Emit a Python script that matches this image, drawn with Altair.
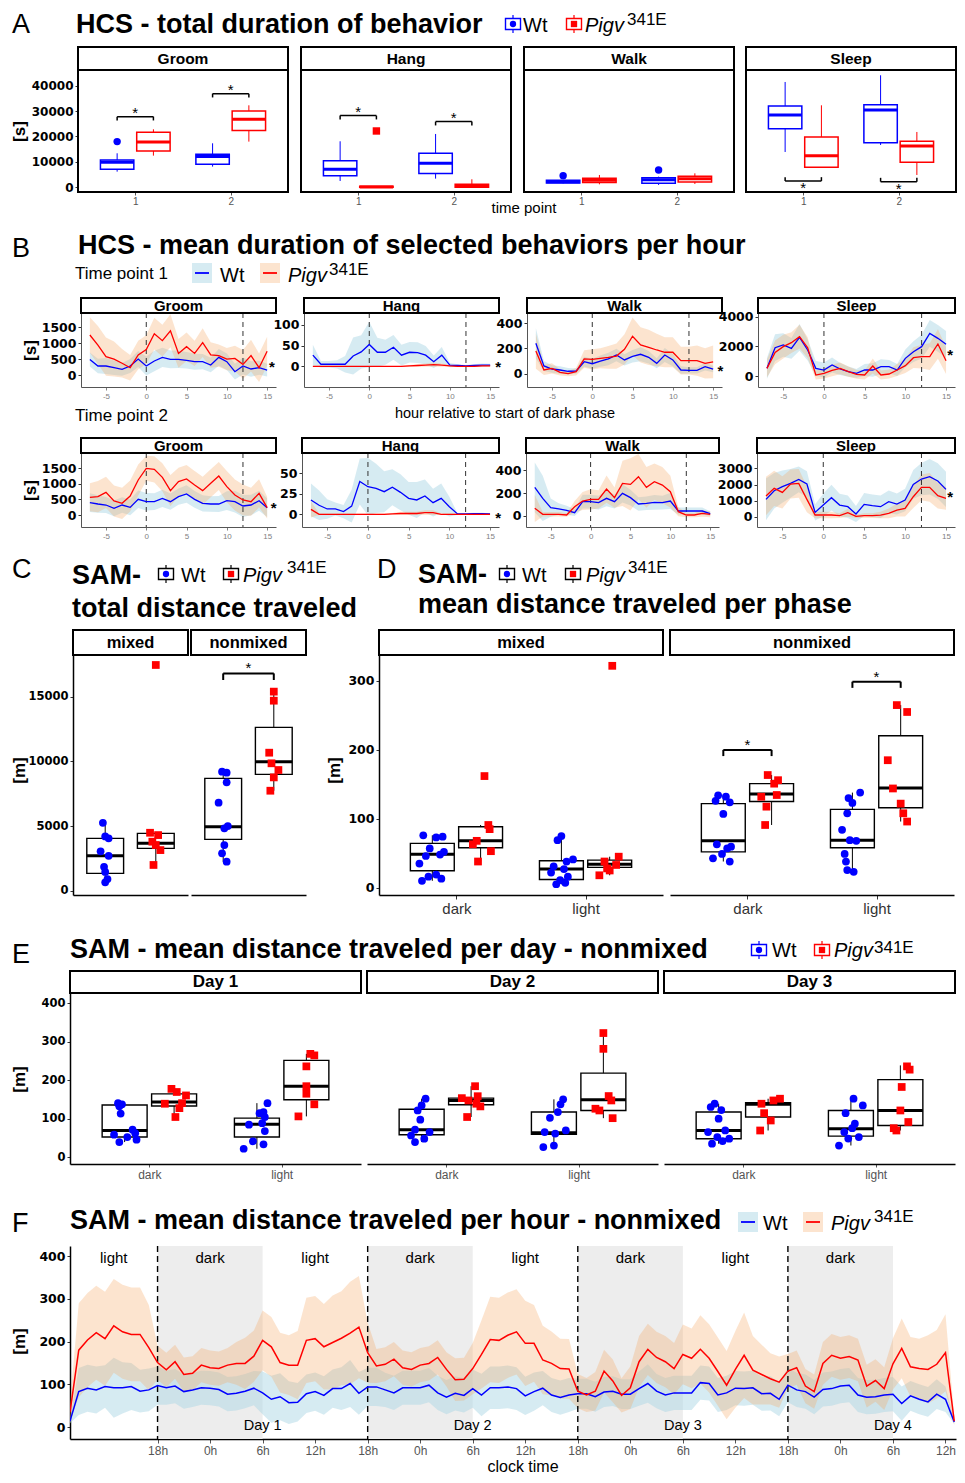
import altair as alt
import pandas as pd

SANS = "Liberation Sans"
NUM = "DejaVu Sans"
BLUE = "#0000FF"
RED = "#FF0000"
BAND_W = "#add8e6"
BAND_P = "#f4a460"
GRP = ["Wt", "Pigv"]
ONE = pd.DataFrame({"k": [0]})
GCOLOR = alt.Scale(domain=GRP, range=[BLUE, RED])
GSHAPE = alt.Scale(domain=GRP, range=["circle", "square"])
TFS = 27  # title font size
FULLW = 948

# ---------------- titles
TITLE_A = "HCS - total duration of behavior"
TITLE_B = "HCS - mean duration of selected behaviors per hour"
TITLE_C = "total distance traveled"
TITLE_D = "mean distance traveled per phase"
TITLE_E = "SAM - mean distance traveled per day - nonmixed"
TITLE_F = "SAM - mean distance traveled per hour - nonmixed"

# ---------------- A : boxplot stats (behavior, time point, genotype)
A_BEH = ["Groom"] * 4 + ["Hang"] * 4 + ["Walk"] * 4 + ["Sleep"] * 4
A_TP = [1, 1, 2, 2] * 4
A_GENO = ["Wt", "Pigv", "Wt", "Pigv"] * 4
A_Q1 = [7080, 14300, 9050, 22300, 4590, 0, 5380, 0, 1700, 1840, 1570, 2100, 23080, 7870, 17570, 9840]
A_MED = [9840, 17840, 12070, 26750, 7080, 100, 9440, 520, 2230, 2750, 3000, 3410, 28460, 12460, 30430, 16260]
A_Q3 = [10750, 21640, 12980, 30030, 10490, 400, 13380, 1180, 2750, 3540, 3800, 4330, 32000, 19800, 32520, 18100]
A_LO = [6160, 12460, 8130, 17970, 2490, 0, 3410, 0, 1500, 1180, 920, 1310, 13900, 7870, 16660, 4850]
A_HI = [13380, 22820, 17310, 32260, 18100, 400, 20980, 3150, 3000, 4850, 4200, 5500, 41440, 32260, 44070, 21770]
A_OUT_BEH = ["Groom", "Hang", "Walk", "Walk"]
A_OUT_TP = [1, 1, 1, 2]
A_OUT_GENO = ["Wt", "Pigv", "Wt", "Wt"]
A_OUT_VAL = [17970, 22160, 4590, 6820]
A_SIG_BEH = ["Groom", "Groom", "Hang", "Hang", "Sleep", "Sleep"]
A_SIG_TP = [1, 2, 1, 2, 1, 2]
A_SIG_Y = [27800, 36850, 28200, 25840, 2490, 2230]
A_SIG_DIR = [1, 1, 1, 1, -1, -1]
A_YTICKS = [0, 10000, 20000, 30000, 40000]
A_XTICKS = [1, 2]

# ---------------- B : hourly means and sd
B_HOURS = [-7, -6, -5, -4, -3, -2, -1, 0, 1, 2, 3, 4, 5, 6, 7, 8, 9, 10, 11, 12, 13, 14, 15]
B_DASH = [0, 12]
B_XTICKS = [-5, 0, 5, 10, 15]

B1_GROOM_WT = [490, 283, 283, 230, 178, 283, 503, 283, 440, 555, 490, 490, 461, 419, 419, 314, 555, 419, 105, 283, 189, 230, 157]
B1_GROOM_WT_SD = [220, 230, 250, 230, 200, 220, 250, 300, 320, 300, 280, 270, 260, 250, 240, 230, 260, 260, 250, 270, 240, 220, 200]
B1_GROOM_PG = [1258, 943, 577, 500, 370, 230, 630, 800, 1300, 1080, 1390, 680, 890, 680, 1020, 630, 610, 500, 520, 335, 610, 230, 750]
B1_GROOM_PG_SD = [560, 600, 600, 550, 450, 400, 450, 450, 500, 500, 520, 450, 450, 400, 450, 400, 350, 350, 400, 450, 500, 450, 450]
B1_HANG_WT = [27, 5, 5, 5, 5, 25, 35, 53, 34, 34, 46, 27, 34, 33, 27, 11, 27, 3, 2, 1, 2, 3, 3]
B1_HANG_WT_SD = [25, 8, 8, 10, 20, 45, 40, 55, 35, 30, 30, 25, 25, 25, 22, 15, 20, 5, 3, 2, 3, 4, 3]
B1_HANG_PG = [0, 0, 0, 0, 0, 0, 0, 0, 0, 0, 0, 0, 1, 2, 3, 4, 3, 1, 0, 0, 0, 1, 1]
B1_HANG_PG_SD = [1, 1, 1, 1, 1, 1, 1, 1, 1, 1, 1, 1, 2, 3, 4, 5, 4, 2, 1, 1, 1, 2, 2]
B1_WALK_WT = [241, 61, 37, 29, 19, 21, 95, 79, 100, 117, 148, 109, 138, 154, 130, 82, 148, 109, 29, 26, 26, 56, 37]
B1_WALK_WT_SD = [120, 40, 30, 30, 25, 20, 40, 40, 45, 50, 50, 45, 50, 55, 50, 40, 55, 50, 30, 25, 25, 30, 25]
B1_WALK_PG = [180, 29, 42, 11, 0, 16, 117, 114, 122, 130, 140, 193, 297, 228, 209, 188, 170, 170, 103, 103, 103, 82, 93]
B1_WALK_PG_SD = [140, 40, 40, 25, 20, 30, 70, 80, 80, 90, 100, 120, 150, 140, 140, 130, 120, 120, 110, 110, 120, 120, 130]
B1_SLEEP_WT = [517, 1910, 2090, 1865, 2607, 1753, 517, 404, 742, 472, 292, 180, 404, 404, 629, 629, 404, 1191, 1640, 1978, 2876, 2539, 2135]
B1_SLEEP_WT_SD = [700, 900, 800, 700, 900, 700, 500, 500, 500, 400, 350, 300, 400, 450, 500, 450, 400, 600, 700, 800, 900, 900, 900]
B1_SLEEP_PG = [517, 1595, 1978, 2247, 2652, 1910, 67, 180, 382, 517, 292, 112, 67, 674, 67, 135, 404, 697, 1236, 1303, 1303, 2157, 1034]
B1_SLEEP_PG_SD = [600, 800, 800, 700, 800, 700, 300, 350, 400, 400, 350, 300, 300, 500, 300, 300, 400, 500, 700, 800, 900, 1000, 900]

B2_GROOM_WT = [396, 353, 321, 214, 321, 246, 503, 428, 428, 535, 428, 589, 675, 503, 375, 353, 353, 460, 428, 289, 321, 460, 236]
B2_GROOM_WT_SD = [300, 280, 260, 250, 250, 250, 280, 280, 270, 280, 260, 260, 280, 270, 260, 250, 260, 300, 350, 350, 330, 320, 300]
B2_GROOM_PG = [567, 589, 728, 450, 375, 610, 1124, 1499, 1467, 1210, 782, 1071, 1156, 964, 782, 1017, 1253, 910, 642, 482, 428, 696, 236]
B2_GROOM_PG_SD = [450, 500, 500, 500, 500, 500, 500, 400, 420, 450, 500, 450, 450, 450, 450, 450, 450, 500, 500, 500, 450, 450, 350]
B2_HANG_WT = [17.5, 11, 6.5, 6.5, 3.3, 10, 40, 33.7, 31.7, 27.6, 33, 26.8, 19.5, 17.5, 22.4, 14.2, 19.5, 9.3, 0.4, 0.4, 0.8, 0.8, 0.4]
B2_HANG_WT_SD = [20, 18, 12, 8, 8, 20, 28, 35, 30, 25, 22, 22, 20, 22, 20, 17, 18, 12, 1, 1, 1, 1, 1]
B2_HANG_PG = [6, 0, 0, 0, 0, 0, 0, 0, 0, 0, 0.5, 1, 1, 1, 2, 2, 0, 0, 0, 0, 0, 0, 0]
B2_HANG_PG_SD = [10, 1, 1, 1, 1, 1, 1, 1, 1, 1, 1, 2, 2, 2, 3, 3, 1, 1, 1, 1, 1, 1, 1]
B2_WALK_WT = [250, 153, 71, 59, 47, 26, 124, 124, 115, 153, 124, 197, 159, 103, 109, 118, 115, 129, 41, 41, 41, 41, 18]
B2_WALK_WT_SD = [220, 200, 80, 50, 40, 30, 60, 60, 60, 70, 60, 80, 70, 60, 60, 65, 60, 70, 30, 30, 30, 30, 20]
B2_WALK_PG = [65, 12, 12, 12, 6, 79, 129, 144, 144, 235, 159, 285, 276, 344, 250, 300, 270, 212, 35, 6, 6, 21, 12]
B2_WALK_PG_SD = [120, 20, 20, 20, 15, 50, 80, 90, 80, 120, 90, 200, 230, 200, 180, 160, 160, 140, 40, 20, 20, 30, 25]
B2_SLEEP_WT = [1077, 1615, 1863, 2070, 2319, 2029, 269, 725, 1180, 725, 621, 166, 766, 683, 621, 932, 787, 1035, 2008, 2340, 2484, 2215, 1698]
B2_SLEEP_WT_SD = [1300, 1100, 1000, 900, 800, 800, 500, 700, 800, 700, 700, 500, 700, 700, 700, 700, 650, 700, 900, 1000, 1100, 1100, 1100]
B2_SLEEP_PG = [1284, 1760, 1511, 2029, 2070, 1077, 104, 104, 104, 62, 248, 21, 62, 62, 104, 207, 414, 518, 1242, 1822, 1822, 1304, 1139]
B2_SLEEP_PG_SD = [1200, 1100, 1000, 900, 900, 800, 200, 200, 200, 150, 250, 100, 150, 150, 200, 300, 400, 500, 700, 800, 900, 800, 700]

# ---------------- C : total distance (mixed Wt, mixed Pigv, nonmixed Wt, nonmixed Pigv)
C_PANELS = ["mixed", "nonmixed"]
C_Q1 = [1340, 3273, 3969, 8995]
C_MED = [2706, 3660, 4948, 9974]
C_Q3 = [4046, 4433, 8686, 12629]
C_LO = [650, 1990, 2240, 7730]
C_HI = [5250, 4480, 9200, 15390]
C_PTS = [[5250, 4200, 4050, 3050, 2700, 1850, 1450, 900, 650],
         [17450, 4480, 4300, 3790, 3530, 3140, 1990],
         [9200, 9120, 8380, 6800, 5000, 4820, 3530, 2890, 2240],
         [15390, 14690, 10670, 9850, 9330, 8760, 7730]]
C_JIT = [[-0.02, 0.0, 0.03, -0.04, 0.03, -0.01, 0.0, 0.02, 0.0],
         [0.0, -0.05, 0.02, -0.03, 0.0, 0.04, -0.02],
         [-0.01, 0.03, 0.03, -0.04, 0.04, 0.01, 0.01, -0.01, 0.03],
         [0.0, 0.0, -0.04, -0.02, 0.04, 0.0, -0.03]]

# ---------------- D : per phase (panel x phase x genotype)
D_PANELS = ["mixed", "nonmixed"]
PHASES = ["dark", "light"]
D_Q1 = [24.7, 58, 12, 29.5, 52, 125, 58, 116]
D_MED = [48.4, 68, 27, 34, 68, 136, 69, 144.7]
D_Q3 = [64.3, 88.5, 39, 40, 122, 151, 113.7, 220.6]
D_LO = [10, 38, 5, 18, 38, 91, 23, 96]
D_HI = [76, 91, 75, 45, 134, 163.5, 138, 265]
D_PTS = [[76, 74, 73, 57, 52, 48, 46, 35, 19, 16, 13, 10],
         [162, 91, 85, 68, 63, 53, 38],
         [75, 69, 41, 38, 31, 27, 22, 16, 11, 7, 5],
         [322, 45, 38, 33, 28, 25, 18],
         [134, 132, 126, 124, 107, 63, 59.5, 57, 49, 42.6, 38],
         [163.5, 156, 151, 134.5, 132, 117.6, 91],
         [138, 130, 123, 108, 84, 69, 68, 49, 38, 25.6, 23],
         [265, 255, 185, 144, 122, 108, 96]]
D_JIT = [[-0.07, 0.08, 0.03, -0.02, 0.09, 0.06, -0.05, -0.1, 0.03, -0.03, 0.07, -0.08],
         [0.03, 0.06, 0.07, -0.03, -0.06, 0.08, -0.02],
         [0.0, -0.03, 0.09, 0.04, -0.06, 0.02, -0.08, 0.05, -0.01, 0.03, -0.04],
         [0.02, 0.07, -0.04, 0.05, -0.02, 0.0, -0.08],
         [-0.04, 0.02, -0.06, 0.05, 0.0, -0.05, 0.06, 0.03, -0.01, -0.08, 0.05],
         [-0.03, 0.05, 0.02, 0.04, -0.08, -0.04, -0.05],
         [0.06, -0.03, 0.0, -0.04, -0.08, -0.02, 0.03, -0.06, -0.05, -0.04, 0.01],
         [-0.03, 0.05, -0.1, -0.06, 0.0, 0.02, 0.05]]
D_SIG_X1 = [0.813, 1.813]
D_SIG_X2 = [1.187, 2.187]
D_SIG_Y = [200, 299]

# ---------------- E : per day (day x phase x genotype)
E_DAYS = ["Day 1", "Day 2", "Day 3"]
E_Q1 = [52, 132.5, 52, 149, 58, 136, 59, 121, 47.6, 104, 54.5, 82]
E_MED = [69, 143, 85, 184, 71, 147, 63, 149, 69, 137, 73.6, 121]
E_Q3 = [135, 164, 101, 251, 124, 153, 117, 218, 117, 141, 121, 201]
E_LO = [39, 104, 21.6, 105.6, 39, 104, 26, 101, 34.6, 69, 30, 69]
E_HI = [140, 177, 140, 268, 151.5, 184, 150, 322, 138.5, 151.5, 151.5, 238]
E_PTS = [[140, 137, 132, 113, 71, 62, 58, 52, 45, 39],
         [177, 169, 160, 140, 138.5, 127, 104],
         [140, 117, 114, 104, 88, 84, 67.5, 41, 33, 21.6],
         [268, 264, 235.5, 184, 164.5, 137, 105.6],
         [151.5, 134, 121, 97, 71, 65, 56, 47.6, 39],
         [184, 158, 153, 147, 138.5, 131.6, 104],
         [150, 137, 117, 102, 69, 65, 61, 30, 26],
         [322, 281, 158.4, 147, 125.5, 121, 101],
         [138.5, 130, 122, 99.6, 69, 65, 52, 47.6, 41.6, 34.6],
         [151.5, 147, 138.5, 114, 95, 69],
         [151.5, 134, 114, 86.6, 75, 65, 52, 48, 30],
         [235.5, 227, 182, 121, 91, 75, 69]]
E_JIT = [[-0.05, -0.02, -0.04, -0.03, 0.06, 0.08, -0.08, 0.02, 0.09, -0.04],
         [-0.02, 0.02, 0.09, 0.06, -0.07, 0.04, 0.01],
         [0.08, 0.05, 0.02, 0.06, 0.04, -0.06, 0.06, -0.03, 0.05, -0.1],
         [0.03, 0.06, 0.0, 0.0, 0.0, 0.06, -0.06],
         [0.03, 0.0, -0.03, -0.01, -0.05, 0.06, -0.08, 0.02, -0.05],
         [0.03, 0.05, -0.07, -0.02, 0.04, 0.07, -0.03],
         [0.07, 0.05, 0.03, -0.03, 0.09, -0.07, 0.01, 0.0, -0.08],
         [0.0, 0.0, 0.04, 0.06, -0.06, -0.03, 0.07],
         [-0.03, -0.06, 0.02, 0.0, 0.05, -0.08, -0.01, 0.08, 0.03, -0.05],
         [0.09, 0.04, -0.05, -0.03, 0.02, -0.06],
         [0.02, 0.09, -0.04, 0.03, 0.01, -0.05, 0.06, -0.02, -0.09],
         [0.05, 0.07, 0.01, 0.0, 0.06, -0.05, -0.03]]

# ---------------- F : hourly distance, hours relative to first 18h
F_HOURS = list(range(-10, 92))
F_WT = [14, 83, 91, 87, 95, 92, 92, 95, 84, 87,
        97, 92, 96, 83, 87, 92, 91, 88, 77, 79,
        84, 91, 80, 65, 71, 57, 58, 78, 83, 74,
        90, 90, 102, 79, 94, 94, 87, 80, 92, 92,
        92, 98, 80, 70, 79, 74, 90, 75, 92, 92,
        94, 90, 73, 83, 91, 75, 69, 75,
        78, 78, 71, 82, 84, 77, 77, 90, 102, 84,
        75, 80, 80, 80, 104, 102, 75, 80, 91, 90,
        92, 78, 79, 65, 98, 87, 83, 70, 88, 90,
        96, 98, 75, 70, 71, 75, 77, 55, 73, 65,
        59, 77, 65, 12]
F_PG = [35, 180, 204, 221, 207, 237, 223, 217, 217, 186,
        151, 134, 153, 123, 126, 145, 139, 137, 145, 149,
        149, 166, 203, 188, 151, 145, 145, 203, 207, 188,
        198, 208, 220, 234, 174, 143, 147, 159, 139, 135,
        145, 149, 163, 135, 111, 112, 137, 170, 205, 203,
        215, 223, 196, 196, 157, 149, 137, 136,
        84, 75, 84, 131, 108, 74, 92, 153, 182, 163,
        153, 137, 170, 161, 182, 161, 130, 98, 135, 168,
        133, 123, 113, 105, 131, 139, 96, 83, 149, 168,
        161, 165, 157, 96, 109, 90, 148, 184, 141, 137,
        135, 147, 174, 14]
F_WT_SD = [5, 55, 55, 55, 50, 70, 60, 55, 50, 50,
           45, 40, 40, 40, 40, 40, 40, 40, 40, 40,
           40, 40, 50, 55, 55, 50, 45, 45, 45, 45,
           45, 50, 55, 50, 45, 45, 40, 40, 40, 40,
           40, 40, 40, 40, 40, 40, 45, 50, 50, 50,
           50, 50, 45, 45, 40, 40, 40, 40,
           35, 35, 35, 35, 35, 35, 35, 40, 45, 40,
           40, 40, 40, 40, 40, 40, 40, 40, 40, 40,
           40, 40, 40, 40, 40, 40, 40, 40, 40, 40,
           40, 40, 40, 40, 40, 40, 40, 40, 35, 35,
           35, 35, 30, 5]
F_PG_SD = [20, 110, 110, 110, 110, 110, 110, 110, 110, 100,
           40, 40, 40, 40, 40, 40, 40, 40, 40, 50,
           60, 60, 70, 70, 70, 70, 80, 100, 100, 100,
           110, 110, 120, 120, 70, 40, 40, 40, 40, 40,
           40, 40, 40, 40, 50, 50, 60, 80, 100, 100,
           100, 100, 100, 90, 80, 75, 70, 70,
           40, 40, 45, 50, 50, 40, 50, 60, 60, 60,
           60, 60, 70, 70, 80, 80, 80, 80, 90, 100,
           80, 70, 60, 60, 40, 40, 40, 40, 50, 50,
           50, 50, 50, 50, 50, 50, 60, 70, 70, 70,
           80, 80, 90, 10]
F_TICKS = [0, 6, 12, 18, 24, 30, 36, 42, 48, 54, 60, 66, 72, 78, 84, 90]
F_TICK_LABELS = ["18h", "0h", "6h", "12h", "18h", "0h", "6h", "12h",
                 "18h", "0h", "6h", "12h", "18h", "0h", "6h", "12h"]
F_DARK_START = [0, 24, 48, 72]
F_DARK_END = [12, 36, 60, 84]
F_PHASE_T = [-5, 6, 18, 30, 42, 54, 66, 78]
F_PHASE_LBL = ["light", "dark", "light", "dark", "light", "dark", "light", "dark"]
F_DAY_T = [12, 36, 60, 84]
F_DAY_LBL = ["Day 1", "Day 2", "Day 3", "Day 4"]


# ======================= helpers
def T(text, x, y, size, weight="normal", style="normal", align="left",
      baseline="alphabetic", color="black", font=SANS):
    return alt.Chart(ONE).mark_text(
        text=text, font=font, fontSize=size, fontWeight=weight, fontStyle=style,
        align=align, baseline=baseline, color=color
    ).encode(x=alt.value(x), y=alt.value(y))


def box_key(cx, cy, outline, ptcol, shape):
    return [
        alt.Chart(ONE).mark_rule(color=outline, strokeWidth=1.2).encode(
            x=alt.value(cx), y=alt.value(cy - 9), y2=alt.value(cy + 9)),
        alt.Chart(ONE).mark_rect(fill="white", stroke=outline, strokeWidth=1.4).encode(
            x=alt.value(cx - 7.5), x2=alt.value(cx + 7.5),
            y=alt.value(cy - 5.5), y2=alt.value(cy + 5.5)),
        alt.Chart(ONE).mark_point(shape=shape, filled=True, color=ptcol, opacity=1, size=40).encode(
            x=alt.value(cx), y=alt.value(cy)),
    ]


def band_key(x0, y0, fill, op, line):
    return [
        alt.Chart(ONE).mark_rect(fill=fill, opacity=op).encode(
            x=alt.value(x0), x2=alt.value(x0 + 20), y=alt.value(y0), y2=alt.value(y0 + 20)),
        alt.Chart(ONE).mark_rule(color=line, strokeWidth=1.8).encode(
            x=alt.value(x0 + 3), x2=alt.value(x0 + 17), y=alt.value(y0 + 10)),
    ]


def spacer(w, h=1, texts=()):
    base = alt.Chart(ONE).mark_rect(opacity=0).encode(
        x=alt.value(0), x2=alt.value(1), y=alt.value(0), y2=alt.value(1))
    return alt.layer(base, *texts).properties(width=w, height=h)


def strip(w, sh, label, fs):
    return [
        alt.Chart(ONE).mark_rect(fill="white", stroke="black", strokeWidth=2).encode(
            x=alt.value(0), x2=alt.value(w), y=alt.value(-sh), y2=alt.value(0)),
        alt.Chart(ONE).mark_text(text=label, font=SANS, fontWeight="bold", fontSize=fs,
                                 align="center", baseline="middle").encode(
            x=alt.value(w / 2), y=alt.value(-sh / 2)),
    ]


def yaxis(values, size, title=None, tx=0, ty=0, domain=True, dcol="black", dw=1.5):
    kw = dict(values=values, format="d", labelFont=NUM, labelFontWeight="bold",
              labelFontSize=size, labelColor="black", tickColor="#333", tickSize=3,
              labelPadding=2, grid=False, domain=domain, labelFlush=False)
    if domain:
        kw.update(domainColor=dcol, domainWidth=dw)
    if title:
        kw.update(title=title, titleFont=SANS, titleFontWeight="bold", titleFontSize=17,
                  titleAngle=270, titleX=tx, titleY=ty, titleAlign="center",
                  titleBaseline="middle")
    else:
        kw.update(title=None)
    return alt.Axis(**kw)


def bracket_layers(bd, X, Y, fs, dy, sw=1.5):
    c = alt.Chart(bd)
    return [
        c.mark_rule(color="black", strokeWidth=sw).encode(x=X("x1"), x2="x2", y=Y("y")),
        c.mark_rule(color="black", strokeWidth=sw).encode(x=X("x1"), y=Y("y"), y2="yt"),
        c.mark_rule(color="black", strokeWidth=sw).encode(x=X("x2"), y=Y("y"), y2="yt"),
        c.mark_text(text="*", font=SANS, fontSize=fs, baseline="alphabetic", dy=dy).encode(
            x=X("xm"), y=Y("y")),
    ]


# ======================= panel A
A_XS = alt.Scale(domain=[0.4, 2.6], nice=False, zero=False)
A_YS = alt.Scale(domain=[-1850, 46150], nice=False, zero=False)
XAX_A = alt.Axis(values=A_XTICKS, format="d", labelFont=SANS, labelFontSize=10, labelColor="#555",
                 tickColor="#555", tickSize=3, labelPadding=1, domain=False, grid=False,
                 title=None, labelFlush=False)
OFFS = {"Wt": -0.19, "Pigv": 0.19}


def a_panel(beh, w, show_y):
    h = 122
    idx = [i for i, b in enumerate(A_BEH) if b == beh]
    df = pd.DataFrame({
        "g": [A_GENO[i] for i in idx], "tp": [A_TP[i] for i in idx],
        "q1": [A_Q1[i] for i in idx], "med": [A_MED[i] for i in idx],
        "q3": [A_Q3[i] for i in idx], "lo": [A_LO[i] for i in idx],
        "hi": [A_HI[i] for i in idx]})
    df["x"] = df["tp"] + df["g"].map(OFFS)
    df["xl"] = df["x"] - 0.175
    df["xr"] = df["x"] + 0.175
    yax = yaxis(A_YTICKS, 12, "[s]", -59, 61, False) if show_y else None
    X = lambda f: alt.X(f, type="quantitative", scale=A_XS, axis=XAX_A)
    Y = lambda f: alt.Y(f, type="quantitative", scale=A_YS, axis=yax)
    col = alt.Color("g:N", scale=GCOLOR, legend=None)
    b = alt.Chart(df)
    layers = [
        b.mark_rule(strokeWidth=1).encode(x=X("x"), y=Y("q3"), y2="hi", color=col),
        b.mark_rule(strokeWidth=1).encode(x=X("x"), y=Y("lo"), y2="q1", color=col),
        b.mark_rect(fill="white", strokeWidth=1.5).encode(
            x=X("xl"), x2="xr", y=Y("q1"), y2="q3",
            stroke=alt.Stroke("g:N", scale=GCOLOR, legend=None)),
        b.mark_rule(strokeWidth=3).encode(x=X("xl"), x2="xr", y=Y("med"), color=col),
    ]
    oi = [i for i, bb in enumerate(A_OUT_BEH) if bb == beh]
    if oi:
        od = pd.DataFrame({"g": [A_OUT_GENO[i] for i in oi],
                           "x": [A_OUT_TP[i] + OFFS[A_OUT_GENO[i]] for i in oi],
                           "v": [A_OUT_VAL[i] for i in oi]})
        layers.append(alt.Chart(od).mark_point(filled=True, opacity=1, size=55).encode(
            x=X("x"), y=Y("v"), color=col,
            shape=alt.Shape("g:N", scale=GSHAPE, legend=None)))
    si = [i for i, bb in enumerate(A_SIG_BEH) if bb == beh]
    if si:
        bd = pd.DataFrame({"x1": [A_SIG_TP[i] - 0.19 for i in si],
                           "x2": [A_SIG_TP[i] + 0.19 for i in si],
                           "xm": [A_SIG_TP[i] for i in si],
                           "y": [A_SIG_Y[i] for i in si],
                           "yt": [A_SIG_Y[i] - 1500 * A_SIG_DIR[i] for i in si]})
        up = A_SIG_DIR[si[0]] > 0
        layers += bracket_layers(bd, X, Y, 15, 1 if up else 12)
    layers.append(alt.Chart(ONE).mark_rect(fillOpacity=0, stroke="black", strokeWidth=2).encode(
        x=alt.value(0), x2=alt.value(w), y=alt.value(0), y2=alt.value(h)))
    layers += strip(w, 23, beh, 15.5)
    return alt.layer(*layers).properties(width=w, height=h)


# ======================= panel B
B_XS = alt.Scale(domain=[-8.1, 16.1], nice=False, zero=False)
XAX_B = alt.Axis(values=B_XTICKS, labelExpr="'' + datum.value", labelFont=SANS, labelFontSize=8,
                 labelColor="#7f7f7f", tickColor="#7f7f7f", tickSize=3, labelPadding=2,
                 domainColor="#555", domainWidth=1, grid=False, title=None, labelFlush=False)


def b_panel(label, wt, wt_sd, pg, pg_sd, ydom, yticks, w, star, ytitle):
    n = len(B_HOURS)
    df = pd.DataFrame({"t": B_HOURS * 2, "g": ["Wt"] * n + ["Pigv"] * n,
                       "m": wt + pg, "sd": wt_sd + pg_sd})
    df["lo"] = df["m"] - df["sd"]
    df["hi"] = df["m"] + df["sd"]
    ys = alt.Scale(domain=ydom, nice=False, zero=False)
    yax = yaxis(yticks, 12.5, "[s]" if ytitle else None, -51, 37, True, "#555", 1)
    X = alt.X("t:Q", scale=B_XS, axis=XAX_B)
    Y = lambda f: alt.Y(f, type="quantitative", scale=ys, axis=yax)
    layers = [
        alt.Chart(df[df["g"] == "Wt"]).mark_area(clip=True, color=BAND_W, opacity=0.5).encode(
            x=X, y=Y("lo"), y2="hi"),
        alt.Chart(df[df["g"] == "Pigv"]).mark_area(clip=True, color=BAND_P, opacity=0.3).encode(
            x=X, y=Y("lo"), y2="hi"),
        alt.Chart(pd.DataFrame({"t": B_DASH})).mark_rule(
            color="#333", strokeDash=[5, 4], strokeWidth=1).encode(x=X),
        alt.Chart(df).mark_line(strokeWidth=1.3, clip=True).encode(
            x=X, y=Y("m"), color=alt.Color("g:N", scale=GCOLOR, legend=None)),
    ]
    if star:
        layers.append(alt.Chart(pd.DataFrame({"t": [star[0]], "y": [star[1]]})).mark_text(
            text="*", font=SANS, fontWeight="bold", fontSize=15, baseline="middle", dy=4).encode(
            x=X, y=Y("y")))
    layers += strip(w, 15, label, 15)
    return alt.layer(*layers).properties(width=w, height=74)


# ======================= black boxplots (C, D, E)
def bw_panel(xc, q1, med, q3, lo, hi, pts, jit, bw, xs, ys, xax, yax, w, h, label, sh, sfs, brk=None):
    bdf = pd.DataFrame({"x": xc, "q1": q1, "med": med, "q3": q3, "lo": lo, "hi": hi})
    bdf["xl"] = bdf["x"] - bw / 2
    bdf["xr"] = bdf["x"] + bw / 2
    rows = []
    for i, (p, j) in enumerate(zip(pts, jit)):
        for v, jj in zip(p, j):
            rows.append({"x": xc[i] + jj, "v": v, "g": GRP[i % 2]})
    pdf = pd.DataFrame(rows)
    X = lambda f: alt.X(f, type="quantitative", scale=xs, axis=xax)
    Y = lambda f: alt.Y(f, type="quantitative", scale=ys, axis=yax)
    b = alt.Chart(bdf)
    layers = [
        b.mark_rule(color="black", strokeWidth=1).encode(x=X("x"), y=Y("q3"), y2="hi"),
        b.mark_rule(color="black", strokeWidth=1).encode(x=X("x"), y=Y("lo"), y2="q1"),
        b.mark_rect(fillOpacity=0, stroke="black", strokeWidth=1.4).encode(
            x=X("xl"), x2="xr", y=Y("q1"), y2="q3"),
        b.mark_rule(color="black", strokeWidth=3).encode(x=X("xl"), x2="xr", y=Y("med")),
        alt.Chart(pdf).mark_point(filled=True, opacity=1, size=60).encode(
            x=X("x"), y=Y("v"), color=alt.Color("g:N", scale=GCOLOR, legend=None),
            shape=alt.Shape("g:N", scale=GSHAPE, legend=None)),
    ]
    if brk is not None:
        layers += bracket_layers(pd.DataFrame(brk), X, Y, 15, 0, 2)
    layers += strip(w, sh, label, sfs)
    return alt.layer(*layers).properties(width=w, height=h)


C_XS = alt.Scale(domain=[0, 1], nice=False, zero=False)
C_YS = alt.Scale(domain=[-332, 18222], nice=False, zero=False)
XAX_C = alt.Axis(values=[0.5], labels=False, ticks=False, domainColor="black", domainWidth=1.5,
                 grid=False, title=None)
C_XC = [0.28, 0.72]


def c_panel(pi, w, show_y, brk=None):
    s = slice(2 * pi, 2 * pi + 2)
    yax = yaxis([0, 5000, 10000, 15000], 11.5, "[m]", -54, 115) if show_y else None
    return bw_panel(C_XC, C_Q1[s], C_MED[s], C_Q3[s], C_LO[s], C_HI[s], C_PTS[s], C_JIT[s],
                    0.32, C_XS, C_YS, XAX_C, yax, w, 240, C_PANELS[pi], 25, 16.5, brk)


PH_EXPR = "[" + ",".join("'%s'" % p for p in PHASES) + "][datum.value - 1]"
D_XS = alt.Scale(domain=[0.4, 2.6], nice=False, zero=False)
D_YS = alt.Scale(domain=[-10.6, 337.7], nice=False, zero=False)
XAX_D = alt.Axis(values=[1, 2], labelExpr=PH_EXPR, labelFont=SANS, labelFontSize=15, labelColor="#333",
                 tickColor="#333", tickSize=4, labelPadding=2, domainColor="black", domainWidth=1.5,
                 grid=False, title=None, labelFlush=False)
XC4 = [1 - 0.187, 1 + 0.187, 2 - 0.187, 2 + 0.187]


def d_panel(pi, w, show_y, brk=None):
    s = slice(4 * pi, 4 * pi + 4)
    yax = yaxis([0, 100, 200, 300], 12.5, "[m]", -45, 115) if show_y else None
    return bw_panel(XC4, D_Q1[s], D_MED[s], D_Q3[s], D_LO[s], D_HI[s], D_PTS[s], D_JIT[s],
                    0.34, D_XS, D_YS, XAX_D, yax, w, 240, D_PANELS[pi], 25, 16.5, brk)


E_YS = alt.Scale(domain=[-18, 426], nice=False, zero=False)
XAX_E = alt.Axis(values=[1, 2], labelExpr=PH_EXPR, labelFont=SANS, labelFontSize=12, labelColor="#555",
                 tickColor="#555", tickSize=3, labelPadding=2, domainColor="black", domainWidth=1.5,
                 grid=False, title=None, labelFlush=False)


def e_panel(di, w, show_y):
    s = slice(4 * di, 4 * di + 4)
    yax = yaxis([0, 100, 200, 300, 400], 11.5, "[m]", -51, 86) if show_y else None
    return bw_panel(XC4, E_Q1[s], E_MED[s], E_Q3[s], E_LO[s], E_HI[s], E_PTS[s], E_JIT[s],
                    0.34, D_XS, E_YS, XAX_E, yax, w, 171, E_DAYS[di], 22, 17)


# ======================= panel F
F_EXPR = ("[" + ",".join("'%s'" % s for s in F_TICK_LABELS) + "][indexof(["
          + ",".join(str(t) for t in F_TICKS) + "], datum.value)]")


def f_panel(w):
    n = len(F_HOURS)
    df = pd.DataFrame({"t": F_HOURS * 2, "g": ["Wt"] * n + ["Pigv"] * n,
                       "m": F_WT + F_PG, "sd": F_WT_SD + F_PG_SD})
    df["lo"] = df["m"] - df["sd"]
    df["hi"] = df["m"] + df["sd"]
    ydom = [-28, 424]
    xs = alt.Scale(domain=[-10, 91.2], nice=False, zero=False)
    ys = alt.Scale(domain=ydom, nice=False, zero=False)
    xax = alt.Axis(values=F_TICKS, labelExpr=F_EXPR, labelFont=SANS, labelFontSize=12,
                   labelColor="#555", tickColor="#555", tickSize=4, labelPadding=2,
                   domainColor="black", domainWidth=1.5, grid=False, title=None, labelFlush=False)
    yax = yaxis([0, 100, 200, 300, 400], 12.5, "[m]", -51, 95)
    X = lambda f: alt.X(f, type="quantitative", scale=xs, axis=xax)
    Y = lambda f: alt.Y(f, type="quantitative", scale=ys, axis=yax)
    shade = pd.DataFrame({"a": F_DARK_START, "b": F_DARK_END,
                          "y0": [ydom[0]] * len(F_DARK_START), "y1": [ydom[1]] * len(F_DARK_START)})
    layers = [
        alt.Chart(shade).mark_rect(color="#ededed").encode(x=X("a"), x2="b", y=Y("y0"), y2="y1"),
        alt.Chart(df[df["g"] == "Wt"]).mark_area(clip=True, color=BAND_W, opacity=0.5).encode(
            x=X("t"), y=Y("lo"), y2="hi"),
        alt.Chart(df[df["g"] == "Pigv"]).mark_area(clip=True, color=BAND_P, opacity=0.3).encode(
            x=X("t"), y=Y("lo"), y2="hi"),
        alt.Chart(pd.DataFrame({"t": F_DARK_START})).mark_rule(
            color="black", strokeDash=[6, 4], strokeWidth=1.4).encode(x=X("t")),
        alt.Chart(df).mark_line(strokeWidth=1.5, clip=True).encode(
            x=X("t"), y=Y("m"), color=alt.Color("g:N", scale=GCOLOR, legend=None)),
        alt.Chart(pd.DataFrame({"t": F_PHASE_T, "lbl": F_PHASE_LBL, "y": [396] * len(F_PHASE_T)}))
        .mark_text(font=SANS, fontSize=15, baseline="middle").encode(x=X("t"), y=Y("y"), text="lbl:N"),
        alt.Chart(pd.DataFrame({"t": F_DAY_T, "lbl": F_DAY_LBL, "y": [2] * len(F_DAY_T)}))
        .mark_text(font=SANS, fontSize=14.5, baseline="middle").encode(x=X("t"), y=Y("y"), text="lbl:N"),
    ]
    return alt.layer(*layers).properties(width=w, height=193)


# ======================= headers
headerA = alt.layer(
    T("A", 4, 25, 27), T(TITLE_A, 68, 25, TFS, "bold"),
    *box_key(505, 16, BLUE, BLUE, "circle"), T("Wt", 515, 24, 20),
    *box_key(566, 16, RED, RED, "square"), T("Pigv", 577, 24, 20, style="italic"),
    T("341E", 619, 17, 17),
).properties(width=FULLW, height=38)

headerB = alt.layer(
    T("B", 4, 37, 27), T(TITLE_B, 70, 34, TFS, "bold"), T("Time point 1", 67, 59, 17),
    *band_key(184, 43, BAND_W, 0.5, BLUE), T("Wt", 212, 62, 20),
    *band_key(252, 43, BAND_P, 0.3, RED), T("Pigv", 280, 62, 20, style="italic"),
    T("341E", 321, 55, 17),
).properties(width=FULLW, height=77)

headerCD = alt.layer(
    T("C", 4, 33, 27), T("SAM-", 64, 39, TFS, "bold"),
    *box_key(158, 29, "black", BLUE, "circle"), T("Wt", 173, 37, 20),
    *box_key(223, 29, "black", RED, "square"), T("Pigv", 235, 37, 20, style="italic"),
    T("341E", 279, 28, 17), T(TITLE_C, 64, 72, TFS, "bold"),
    T("D", 369, 33, 27), T("SAM-", 410, 38, TFS, "bold"),
    *box_key(499, 29, "black", BLUE, "circle"), T("Wt", 514, 37, 20),
    *box_key(565, 29, "black", RED, "square"), T("Pigv", 578, 37, 20, style="italic"),
    T("341E", 620, 28, 17), T(TITLE_D, 410, 68, TFS, "bold"),
).properties(width=FULLW, height=84)

headerE = alt.layer(
    T("E", 4, 38, 27), T(TITLE_E, 62, 33, TFS, "bold"),
    *box_key(751, 25, BLUE, BLUE, "circle"), T("Wt", 764, 32, 20),
    *box_key(814, 25, RED, RED, "square"), T("Pigv", 826, 32, 20, style="italic"),
    T("341E", 866, 28, 17),
).properties(width=FULLW, height=45)

headerF = alt.layer(
    T("F", 4, 32, 27), T(TITLE_F, 62, 29, TFS, "bold"),
    *band_key(730, 12, BAND_W, 0.5, BLUE), T("Wt", 755, 30, 20),
    *band_key(795, 12, BAND_P, 0.3, RED), T("Pigv", 823, 30, 20, style="italic"),
    T("341E", 866, 22, 17),
).properties(width=FULLW, height=45)

# ======================= rows
rowA = alt.hconcat(
    spacer(70, 150, [T("time point", 516, 143, 15, align="center")]),
    a_panel("Groom", 210, True), spacer(13),
    a_panel("Hang", 210, False), spacer(13),
    a_panel("Walk", 210, False), spacer(12),
    a_panel("Sleep", 210, False),
    spacing=0, bounds="flush")

rowB1 = alt.hconcat(
    spacer(73, 124, [T("hour relative to start of dark phase", 497, 105, 14.5, align="center"),
                     T("Time point 2", 67, 108, 17)]),
    b_panel("Groom", B1_GROOM_WT, B1_GROOM_WT_SD, B1_GROOM_PG, B1_GROOM_PG_SD,
            [-377, 1950], [0, 500, 1000, 1500], 195, (15.6, 370), True), spacer(28),
    b_panel("Hang", B1_HANG_WT, B1_HANG_WT_SD, B1_HANG_PG, B1_HANG_PG_SD,
            [-50, 129], [0, 50, 100], 195, (16.0, 8), False), spacer(28),
    b_panel("Walk", B1_WALK_WT, B1_WALK_WT_SD, B1_WALK_PG, B1_WALK_PG_SD,
            [-106, 482], [0, 200, 400], 195, (15.9, 53), False), spacer(36),
    b_panel("Sleep", B1_SLEEP_WT, B1_SLEEP_WT_SD, B1_SLEEP_PG, B1_SLEEP_PG_SD,
            [-741, 4247], [0, 2000, 4000], 197, (15.5, 1685), False),
    spacing=0, bounds="flush")

rowB2 = alt.hconcat(
    spacer(73, 92),
    b_panel("Groom", B2_GROOM_WT, B2_GROOM_WT_SD, B2_GROOM_PG, B2_GROOM_PG_SD,
            [-385, 1991], [0, 500, 1000, 1500], 195, (15.8, 353), True), spacer(26),
    b_panel("Hang", B2_HANG_WT, B2_HANG_WT_SD, B2_HANG_PG, B2_HANG_PG_SD,
            [-15.5, 74.8], [0, 25, 50], 197, (16.0, 0), False), spacer(27),
    b_panel("Walk", B2_WALK_WT, B2_WALK_WT_SD, B2_WALK_PG, B2_WALK_PG_SD,
            [-100, 553], [0, 200, 400], 193, None, False), spacer(38),
    b_panel("Sleep", B2_SLEEP_WT, B2_SLEEP_WT_SD, B2_SLEEP_PG, B2_SLEEP_PG_SD,
            [-640, 3957], [0, 1000, 2000, 3000], 198, (15.5, 1450), False),
    spacing=0, bounds="flush")

C_BRK = {"x1": [C_XC[0]], "x2": [C_XC[1]], "xm": [0.5], "y": [16800], "yt": [16290]}
D_BRK = {"x1": D_SIG_X1, "x2": D_SIG_X2, "xm": [1, 2], "y": D_SIG_Y, "yt": [y - 9 for y in D_SIG_Y]}

rowCD = alt.hconcat(
    spacer(65, 270),
    c_panel(0, 115, True), spacer(3),
    c_panel(1, 115, False, C_BRK), spacer(73),
    d_panel(0, 284, True), spacer(7),
    d_panel(1, 284, False, D_BRK),
    spacing=0, bounds="flush")

rowE = alt.hconcat(
    spacer(62, 207),
    e_panel(0, 291, True), spacer(6),
    e_panel(1, 291, False), spacer(6),
    e_panel(2, 291, False),
    spacing=0, bounds="flush")

rowF = alt.hconcat(
    spacer(62, 230, [T("clock time", 515, 226, 16, align="center")]),
    f_panel(886),
    spacing=0, bounds="flush")

chart = alt.vconcat(
    headerA, rowA, headerB, rowB1, rowB2, headerCD, rowCD, headerE, rowE, headerF, rowF,
    spacing=0, bounds="full"
).properties(padding=0).configure_view(stroke=None).configure_axis(grid=False)

chart.save("out.html", embed_options={"renderer": "svg", "actions": False})
